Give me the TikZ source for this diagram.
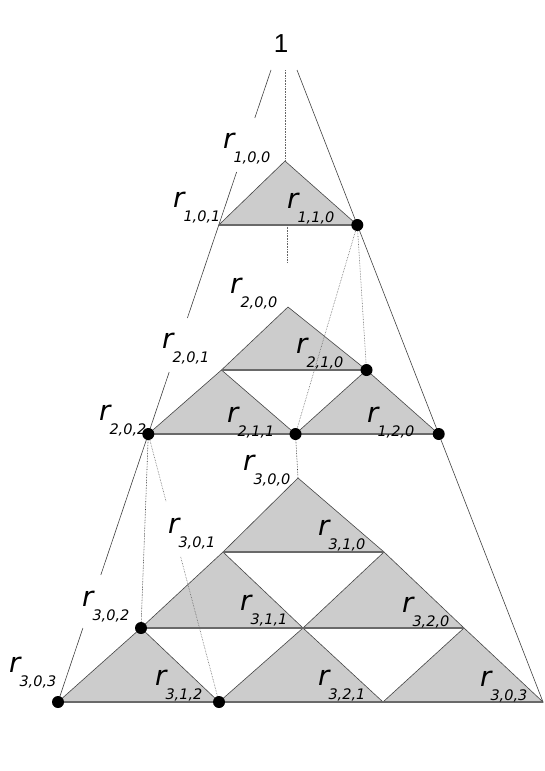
\documentclass[tikz,border=0pt]{standalone}
\usepackage{fontspec}
\setmainfont{Liberation Sans}
\newfontfamily\labfont{DejaVu Sans}
\definecolor{trifill}{RGB}{204,204,204}
\definecolor{edgecol}{RGB}{70,70,70}
\definecolor{basecol}{RGB}{105,105,105}
\newcommand{\rlabtext}[1]{{\labfont\itshape\fontsize{27.5}{27.5}\selectfont r\kern-1pt\raisebox{-14pt}{\fontsize{14.5}{14.5}\selectfont #1}}}
\begin{document}
\begin{tikzpicture}[x=1pt,y=-1pt,
  tri/.style={fill=trifill, draw=edgecol, line width=0.6pt},
  baseln/.style={draw=basecol, line width=1.3pt},
  mainln/.style={draw=black!75, line width=0.6pt},
  dotdark/.style={draw=black!85, line width=0.6pt, densely dotted},
  dotlight/.style={draw=black!60, line width=0.6pt, densely dotted},
  dotnode/.style={circle, fill=black, inner sep=0pt, minimum size=12pt},
  lab/.style={anchor=base west, inner sep=0pt}]
\useasboundingbox (0,0) rectangle (545,771);

% top
\node[font=\fontsize{26}{26}\selectfont, inner sep=0pt] (one) at (281,44) {1};
\coordinate (t1) at (271,70);
\coordinate (t2) at (285,70);
\coordinate (t3) at (297,70);

% level 1
\coordinate (A1) at (285,161);
\coordinate (B1L) at (218.8,225);
\coordinate (B1R) at (357.3,225);
% level 2
\coordinate (A2) at (288,307);
\coordinate (M2L) at (221.5,370);
\coordinate (M2R) at (366.5,370);
\coordinate (B2L) at (148.3,434);
\coordinate (B2M) at (295.5,434);
\coordinate (B2R) at (438.7,434);
% level 3
\coordinate (A3) at (298,478);
\coordinate (R1L) at (223,552);
\coordinate (R1R) at (384,552);
\coordinate (R2L) at (141,628);
\coordinate (R2M) at (303,628);
\coordinate (R2R) at (464,628);
\coordinate (R3a) at (58,702);
\coordinate (R3b) at (219,702);
\coordinate (R3c) at (383,702);
\coordinate (R3d) at (543,702);

% triangles
\filldraw[tri] (A1) -- (B1L) -- (B1R) -- cycle;
\draw[baseln] (B1L) -- (B1R);

\filldraw[tri] (A2) -- (M2L) -- (M2R) -- cycle;
\filldraw[tri] (M2L) -- (B2L) -- (B2M) -- cycle;
\filldraw[tri] (M2R) -- (B2M) -- (B2R) -- cycle;
\draw[baseln] (M2L) -- (M2R);
\draw[baseln] (B2L) -- (B2R);

\filldraw[tri] (A3) -- (R1L) -- (R1R) -- cycle;
\filldraw[tri] (R1L) -- (R2L) -- (R2M) -- cycle;
\filldraw[tri] (R1R) -- (R2M) -- (R2R) -- cycle;
\filldraw[tri] (R2L) -- (R3a) -- (R3b) -- cycle;
\filldraw[tri] (R2M) -- (R3b) -- (R3c) -- cycle;
\filldraw[tri] (R2R) -- (R3c) -- (R3d) -- cycle;
\draw[baseln] (R1L) -- (R1R);
\draw[baseln] (R2L) -- (R2R);
\draw[baseln] (R3a) -- (R3d);

% gap coordinates on the left main line
\coordinate (g1a) at (254.8,118);
\coordinate (g1b) at (236.6,172);
\coordinate (g2a) at (187.4,318);
\coordinate (g2b) at (169.2,372);
\coordinate (g3a) at (100.8,575);
\coordinate (g3b) at (82.9,628);
% gap on the dotted line r202 -> r312
\coordinate (g4a) at (166.2,502);
\coordinate (g4b) at (180.7,557);
% lower piece of middle line
\coordinate (m1) at (287,225);
\coordinate (m2) at (287,263);

% main lines
\draw[mainln] (t1) -- (g1a);
\draw[mainln] (g1b) -- (B1L) -- (g2a);
\draw[mainln] (g2b) -- (B2L) -- (g3a);
\draw[mainln] (g3b) -- (R3a);
\draw[mainln] (t3) -- (B1R) -- (B2R) -- (R3d);

% dotted lines
\draw[dotlight] (t2) -- (A1);
\draw[dotlight] (m1) -- (m2);
\draw[dotlight] (B1R) -- (B2M);
\draw[dotlight] (B1R) -- (M2R);
\draw[dotdark] (B2M) -- (A3);
\draw[dotdark] (B2L) -- (R2L);
\draw[dotlight] (B2L) -- (g4a);
\draw[dotlight] (g4b) -- (R3b);

% dots
\node[dotnode] (d110) at (B1R) {};
\node[dotnode] (d210) at (M2R) {};
\node[dotnode] (d202) at (B2L) {};
\node[dotnode] (d211) at (B2M) {};
\node[dotnode] (d120) at (B2R) {};
\node[dotnode] (d302) at (R2L) {};
\node[dotnode] (d303) at (R3a) {};
\node[dotnode] (d312) at (R3b) {};

% labels
\node[lab] (l100) at (223,148) {\rlabtext{1,0,0}};
\node[lab] (l101) at (173,207) {\rlabtext{1,0,1}};
\node[lab] (l110) at (287,208) {\rlabtext{1,1,0}};
\node[lab] (l200) at (230,293) {\rlabtext{2,0,0}};
\node[lab] (l201) at (162,348) {\rlabtext{2,0,1}};
\node[lab] (l210) at (296,353) {\rlabtext{2,1,0}};
\node[lab] (l202) at (99,420) {\rlabtext{2,0,2}};
\node[lab] (l211) at (227,422) {\rlabtext{2,1,1}};
\node[lab] (l120) at (367,422) {\rlabtext{1,2,0}};
\node[lab] (l300) at (243,470) {\rlabtext{3,0,0}};
\node[lab] (l301) at (168,533) {\rlabtext{3,0,1}};
\node[lab] (l310) at (318,535) {\rlabtext{3,1,0}};
\node[lab] (l302) at (82,606) {\rlabtext{3,0,2}};
\node[lab] (l311) at (240,610) {\rlabtext{3,1,1}};
\node[lab] (l320) at (402,612) {\rlabtext{3,2,0}};
\node[lab] (l303a) at (9,672) {\rlabtext{3,0,3}};
\node[lab] (l312) at (155,685) {\rlabtext{3,1,2}};
\node[lab] (l321) at (318,685) {\rlabtext{3,2,1}};
\node[lab] (l303b) at (480,686) {\rlabtext{3,0,3}};
\end{tikzpicture}
\end{document}
